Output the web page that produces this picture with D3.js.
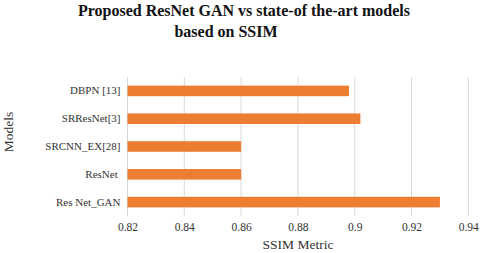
<!DOCTYPE html>
<html>
<head>
<meta charset="utf-8">
<script src="https://cdn.jsdelivr.net/npm/d3@7"></script>
<style>
  body { margin: 0; background: #fff; }
  svg text { font-family: "Liberation Serif", "Times New Roman", Times, serif; white-space: pre; }
</style>
</head>
<body>
<div id="chart"></div>
<script>
// Chart data
const models = ['DBPN [13]', 'SRResNet[3]', 'SRCNN_EX[28]', 'ResNet ', 'Res Net_GAN'];
const ssim = [0.898, 0.902, 0.86, 0.86, 0.93];
const xTicks = [0.82, 0.84, 0.86, 0.88, 0.9, 0.92, 0.94];

const width = 480, height = 253;
const margin = { top: 77, right: 12, bottom: 37, left: 127.5 };

const svg = d3.select('#chart')
    .append('svg')
    .attr('width', width)
    .attr('height', height);

const x = d3.scaleLinear()
    .domain([0.82, 0.94])
    .range([margin.left, 468.3]);

const y = d3.scaleBand()
    .domain(models)
    .range([margin.top, height - margin.bottom])
    .paddingInner(0.62)
    .paddingOuter(0.31);

// Gridlines
svg.append('g')
    .selectAll('line')
    .data(xTicks)
    .enter()
    .append('line')
    .attr('x1', d => x(d))
    .attr('x2', d => x(d))
    .attr('y1', margin.top)
    .attr('y2', height - margin.bottom)
    .attr('stroke', '#d9d9d9')
    .attr('stroke-width', 1);

// Bars
svg.append('g')
    .selectAll('rect')
    .data(models)
    .enter()
    .append('rect')
    .attr('x', x(0.82))
    .attr('y', d => y(d))
    .attr('width', (d, i) => x(ssim[i]) - x(0.82))
    .attr('height', y.bandwidth())
    .attr('fill', '#ED7D31');

// X axis labels
const xAxis = d3.axisBottom(x)
    .tickValues(xTicks)
    .tickSize(0)
    .tickPadding(7)
    .tickFormat(d => String(+d.toFixed(2)));

svg.append('g')
    .attr('transform', `translate(0, ${height - margin.bottom})`)
    .call(xAxis)
    .call(g => g.select('.domain').remove())
    .call(g => g.attr('font-family', null))
    .selectAll('text')
    .attr('font-size', 11.5)
    .attr('fill', '#333');

// Y axis labels
const yAxis = d3.axisLeft(y).tickSize(0).tickPadding(7);
svg.append('g')
    .attr('transform', `translate(${margin.left}, 0)`)
    .call(yAxis)
    .call(g => g.select('.domain').remove())
    .call(g => g.attr('font-family', null))
    .selectAll('text')
    .attr('font-size', 11)
    .attr('fill', '#333');

// Axis titles
svg.append('text')
    .attr('x', 298)
    .attr('y', 249)
    .attr('text-anchor', 'middle')
    .attr('font-size', 13.5)
    .attr('fill', '#333')
    .text('SSIM Metric');

svg.append('text')
    .attr('transform', 'translate(13, 132) rotate(-90)')
    .attr('text-anchor', 'middle')
    .attr('font-size', 13.5)
    .attr('fill', '#333')
    .text('Models');

// Title
svg.append('text')
    .attr('x', 244)
    .attr('y', 15.5)
    .attr('text-anchor', 'middle')
    .attr('font-size', 16)
    .attr('font-weight', 'bold')
    .attr('fill', '#111')
    .text('Proposed ResNet GAN vs state-of the-art models');

svg.append('text')
    .attr('x', 226)
    .attr('y', 37)
    .attr('text-anchor', 'middle')
    .attr('font-size', 16)
    .attr('font-weight', 'bold')
    .attr('fill', '#111')
    .text('based on SSIM');
</script>
</body>
</html>
